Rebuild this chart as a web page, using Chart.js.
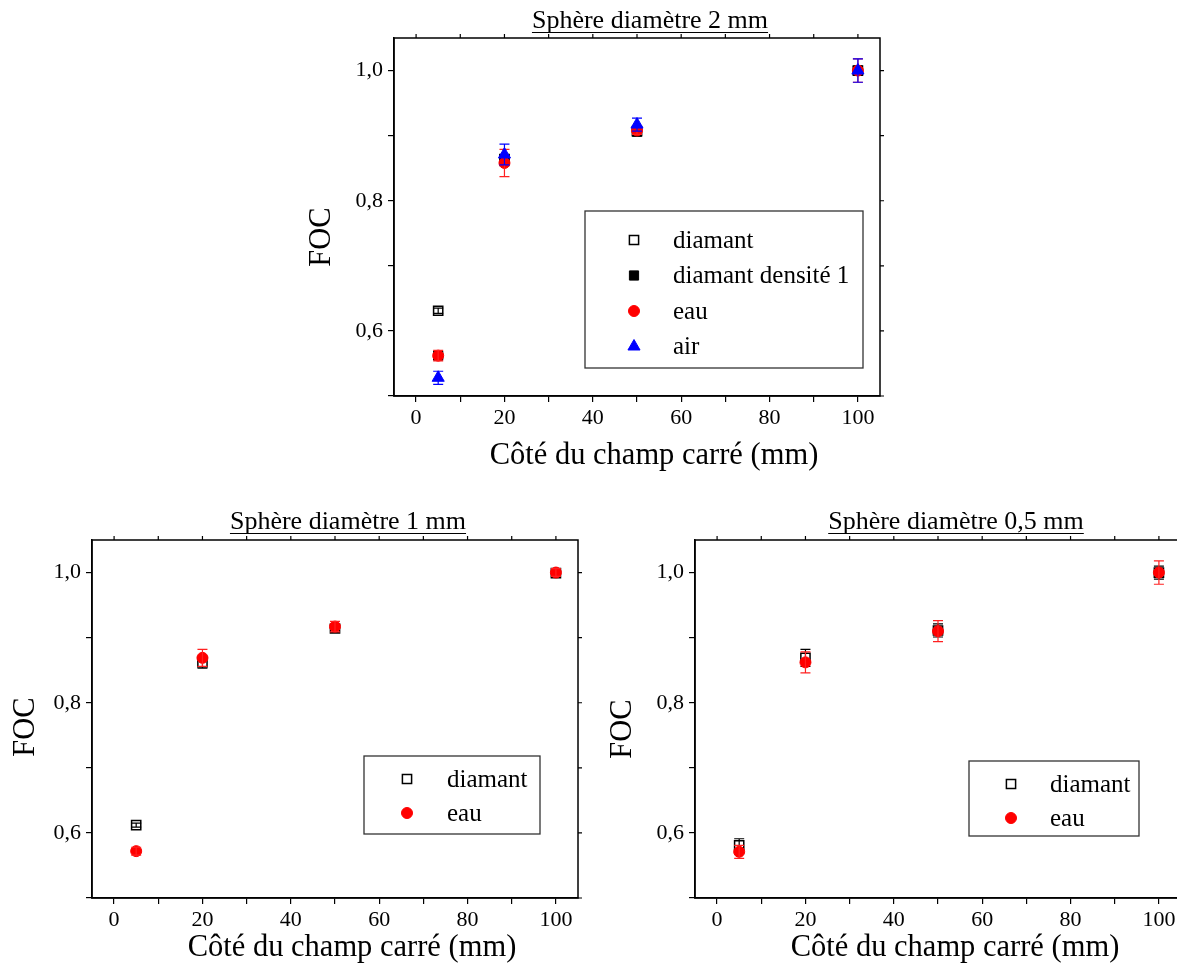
<!DOCTYPE html>
<html>
<head>
<meta charset="utf-8">
<script src="https://cdn.jsdelivr.net/npm/chart.js@4.4.1/dist/chart.umd.min.js"></script>
<style>
  body { margin: 0; width: 1177px; height: 965px; overflow: hidden; background: #fff; position: relative; }
  .plot { position: absolute; }
</style>
</head>
<body>
<div class="plot" style="left:300px;top:0;width:600px;height:480px"><canvas id="chart2mm" width="600" height="480"></canvas></div>
<div class="plot" style="left:0;top:500px;width:600px;height:465px"><canvas id="chart1mm" width="600" height="465"></canvas></div>
<div class="plot" style="left:603px;top:500px;width:600px;height:465px"><canvas id="chart05mm" width="600" height="465"></canvas></div>

<script>
// ---- data ----
const fieldSizes = [5, 20, 50, 100];        // côté du champ carré (mm)
const xTicks = [0, 10, 20, 30, 40, 50, 60, 70, 80, 90, 100];
const xLabels = [0, 20, 40, 60, 80, 100];
const yTicks = [0.5, 0.6, 0.7, 0.8, 0.9, 1.0];
const yLabels = [0.6, 0.8, 1.0];

// Sphère diamètre 2 mm
const s2Diamant = [0.631, 0.864, 0.907, 1.0];
const s2DiamantErr = [0.004, 0.006, 0.004, 0.006];
const s2Densite = [0.562, 0.862, 0.906, 1.0];
const s2DensiteErr = [0.004, 0.008, 0.004, 0.006];
const s2Eau = [0.562, 0.858, 0.908, 1.0];
const s2EauErr = [0.008, 0.021, 0.006, 0.018];
const s2Air = [0.528, 0.871, 0.917, 1.0];
const s2AirErr = [0.010, 0.016, 0.010, 0.018];

// Sphère diamètre 1 mm
const s1Diamant = [0.612, 0.862, 0.914, 0.999];
const s1DiamantErr = [0.003, 0.009, 0.006, 0.005];
const s1Eau = [0.572, 0.869, 0.917, 1.0];
const s1EauErr = [0.006, 0.013, 0.008, 0.006];

// Sphère diamètre 0,5 mm
const s05Diamant = [0.581, 0.869, 0.911, 1.0];
const s05DiamantErr = [0.010, 0.013, 0.010, 0.010];
const s05Eau = [0.571, 0.862, 0.910, 1.0];
const s05EauErr = [0.010, 0.016, 0.016, 0.018];

const FONT = "'Liberation Serif', 'Times New Roman', serif";

// marker styles per series
const styles = {
    diamant: { pointStyle: 'rect', pointRadius: 6.5, backgroundColor: '#fff', borderColor: '#000', borderWidth: 1.5, errColor: '#000' },
    densite: { pointStyle: 'rect', pointRadius: 6.5, backgroundColor: '#000', borderColor: '#000', borderWidth: 1, errColor: '#000' },
    eau:     { pointStyle: 'circle', pointRadius: 5.5, backgroundColor: '#ff0000', borderColor: '#ff0000', borderWidth: 1, errColor: '#ff2020' },
    air:     { pointStyle: 'triangle', pointRadius: 7, backgroundColor: '#0000ff', borderColor: '#0000ff', borderWidth: 1, errColor: '#0000ff' }
};

function series(label, kind, values, errs, order) {
    const s = styles[kind];
    return {
        label: label,
        kind: kind,
        data: fieldSizes.map((x, i) => ({ x: x, y: values[i] })),
        yErr: errs,
        errColor: s.errColor,
        pointStyle: s.pointStyle,
        pointRadius: s.pointRadius,
        pointHoverRadius: s.pointRadius,
        backgroundColor: s.backgroundColor,
        borderColor: s.borderColor,
        borderWidth: s.borderWidth,
        showLine: false,
        order: order
    };
}

function drawMarker(ctx, kind, x, y) {
    const s = styles[kind];
    ctx.save();
    ctx.fillStyle = s.backgroundColor;
    ctx.strokeStyle = s.borderColor;
    ctx.lineWidth = s.borderWidth;
    ctx.beginPath();
    const r = s.pointRadius;
    if (s.pointStyle === 'rect') {
        const h = r / Math.SQRT2;
        ctx.rect(x - h, y - h, 2 * h, 2 * h);
    } else if (s.pointStyle === 'circle') {
        ctx.arc(x, y, r, 0, Math.PI * 2);
    } else {
        ctx.moveTo(x, y - r);
        ctx.lineTo(x + r * Math.sin(Math.PI * 2 / 3), y - r * Math.cos(Math.PI * 2 / 3));
        ctx.lineTo(x - r * Math.sin(Math.PI * 2 / 3), y - r * Math.cos(Math.PI * 2 / 3));
        ctx.closePath();
    }
    ctx.fill();
    ctx.stroke();
    ctx.restore();
}

// error bars, frame, mirror ticks, legend and texts
const decorPlugin = {
    id: 'decor',
    afterDatasetDraw(chart, args) {
        const ds = chart.data.datasets[args.index];
        if (!ds.yErr) return;
        const ctx = chart.ctx;
        const yScale = chart.scales.y;
        ctx.save();
        ctx.strokeStyle = ds.errColor;
        ctx.lineWidth = 1.2;
        args.meta.data.forEach((pt, i) => {
            const v = ds.data[i].y, e = ds.yErr[i];
            const y1 = yScale.getPixelForValue(v + e);
            const y2 = yScale.getPixelForValue(v - e);
            ctx.beginPath();
            ctx.moveTo(pt.x, y1); ctx.lineTo(pt.x, y2);
            ctx.moveTo(pt.x - 5, y1); ctx.lineTo(pt.x + 5, y1);
            ctx.moveTo(pt.x - 5, y2); ctx.lineTo(pt.x + 5, y2);
            ctx.stroke();
        });
        ctx.restore();
    },
    afterDraw(chart, args, opts) {
        const ctx = chart.ctx;
        const a = chart.chartArea;
        const xs = chart.scales.x, ys = chart.scales.y;
        ctx.save();

        // frame + mirror ticks on top / right
        ctx.strokeStyle = '#000';
        ctx.lineWidth = 1.5;
        ctx.strokeRect(a.left, a.top, a.right - a.left, a.bottom - a.top);
        ctx.lineWidth = 1.2;
        ctx.beginPath();
        xTicks.forEach(v => {
            const px = xs.getPixelForValue(v);
            ctx.moveTo(px, a.top); ctx.lineTo(px, a.top - 4);
        });
        yTicks.forEach(v => {
            const py = ys.getPixelForValue(v);
            ctx.moveTo(a.right, py); ctx.lineTo(a.right + 4, py);
        });
        ctx.stroke();

        // title (underlined)
        ctx.fillStyle = '#000';
        ctx.font = '26px ' + FONT;
        ctx.textAlign = 'center';
        ctx.textBaseline = 'alphabetic';
        const tx = a.left + opts.titleDx;
        ctx.fillText(opts.title, tx, opts.titleY);
        const tw = ctx.measureText(opts.title).width;
        ctx.lineWidth = 1.2;
        ctx.beginPath();
        ctx.moveTo(tx - tw / 2, opts.titleY + 4.5);
        ctx.lineTo(tx + tw / 2, opts.titleY + 4.5);
        ctx.stroke();

        // axis titles
        ctx.font = '30.5px ' + FONT;
        ctx.textBaseline = 'middle';
        ctx.fillText('Côté du champ carré (mm)', a.left + opts.xTitleDx, a.bottom + opts.xTitleDy);
        ctx.save();
        ctx.translate(a.left + opts.focDx, a.top + opts.focDy);
        ctx.rotate(-Math.PI / 2);
        ctx.fillText('FOC', 0, 0);
        ctx.restore();

        // legend box
        const L = opts.legend;
        ctx.strokeStyle = '#333';
        ctx.lineWidth = 1.3;
        ctx.strokeRect(a.left + L.box[0], a.top + L.box[1], L.box[2], L.box[3]);
        ctx.font = '25px ' + FONT;
        ctx.textAlign = 'left';
        ctx.fillStyle = '#000';
        chart.data.datasets.slice().sort((p, q) => q.order - p.order).forEach((ds, i) => {
            const ry = a.top + L.rowY + i * L.rowStep;
            drawMarker(ctx, ds.kind, a.left + L.markerX, ry);
            ctx.fillStyle = '#000';
            ctx.fillText(ds.label, a.left + L.textX, ry + 1);
        });
        ctx.restore();
    }
};

function makeChart(id, datasets, cfg) {
    return new Chart(document.getElementById(id), {
        type: 'scatter',
        data: { datasets: datasets },
        options: {
            responsive: false,
            animation: false,
            devicePixelRatio: 1,
            layout: { padding: { top: cfg.padTop, right: cfg.padRight, left: 0, bottom: 0 } },
            plugins: {
                legend: { display: false },
                tooltip: { enabled: false },
                decor: cfg
            },
            scales: {
                x: {
                    type: 'linear', min: -5, max: 105,
                    afterBuildTicks: axis => { axis.ticks = xTicks.map(v => ({ value: v })); },
                    afterFit: axis => { axis.height = cfg.xAxisH; },
                    ticks: {
                        autoSkip: false, maxRotation: 0, padding: 3, color: '#000',
                        font: { family: FONT, size: 22 },
                        callback: v => xLabels.includes(v) ? String(v) : ''
                    },
                    grid: { drawOnChartArea: false, tickLength: 6, color: '#000', lineWidth: 1.2 },
                    border: { color: '#000', width: 1.5 }
                },
                y: {
                    type: 'linear', min: 0.5, max: 1.05,
                    afterBuildTicks: axis => { axis.ticks = yTicks.map(v => ({ value: v })); },
                    afterFit: axis => { axis.width = cfg.yAxisW; },
                    ticks: {
                        autoSkip: false, padding: 5, color: '#000',
                        font: { family: FONT, size: 22 },
                        callback: v => yLabels.includes(v) ? v.toFixed(1).replace('.', ',') : ''
                    },
                    grid: { drawOnChartArea: false, tickLength: 6, color: '#000', lineWidth: 1.2 },
                    border: { color: '#000', width: 1.5 }
                }
            }
        },
        plugins: [decorPlugin]
    });
}

makeChart('chart2mm', [
    series('diamant', 'diamant', s2Diamant, s2DiamantErr, 3),
    series('diamant densité 1', 'densite', s2Densite, s2DensiteErr, 2),
    series('eau', 'eau', s2Eau, s2EauErr, 1),
    series('air', 'air', s2Air, s2AirErr, 0)
], {
    padTop: 38, padRight: 20, yAxisW: 94, xAxisH: 84,
    title: 'Sphère diamètre 2 mm', titleDx: 256, titleY: 28,
    xTitleDx: 260, xTitleDy: 60, focDx: -72, focDy: 199,
    legend: { box: [191, 173, 278, 157], markerX: 240, textX: 279, rowY: 202, rowStep: 35.5 }
});

makeChart('chart1mm', [
    series('diamant', 'diamant', s1Diamant, s1DiamantErr, 1),
    series('eau', 'eau', s1Eau, s1EauErr, 0)
], {
    padTop: 40, padRight: 22, yAxisW: 92, xAxisH: 67,
    title: 'Sphère diamètre 1 mm', titleDx: 256, titleY: 29,
    xTitleDx: 260, xTitleDy: 50, focDx: -66, focDy: 187,
    legend: { box: [272, 216, 176, 78], markerX: 315, textX: 355, rowY: 239, rowStep: 34 }
});

makeChart('chart05mm', [
    series('diamant', 'diamant', s05Diamant, s05DiamantErr, 1),
    series('eau', 'eau', s05Eau, s05EauErr, 0)
], {
    padTop: 40, padRight: 22, yAxisW: 92, xAxisH: 67,
    title: 'Sphère diamètre 0,5 mm', titleDx: 261, titleY: 29,
    xTitleDx: 260, xTitleDy: 50, focDx: -72, focDy: 189,
    legend: { box: [274, 221, 170, 75], markerX: 316, textX: 355, rowY: 244, rowStep: 34 }
});
</script>
</body>
</html>
